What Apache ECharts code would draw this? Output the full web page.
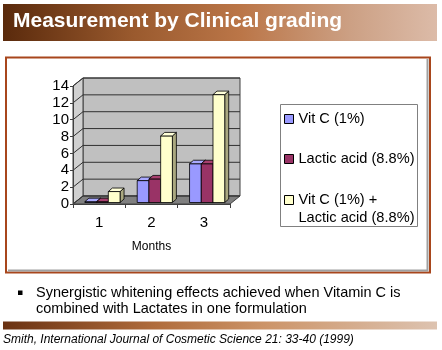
<!DOCTYPE html>
<html><head><meta charset="utf-8">
<script src="https://cdn.jsdelivr.net/npm/echarts@6/dist/echarts.min.js"></script>
<style>html,body{margin:0;padding:0;background:#fff}#c{width:442px;height:350px}</style>
</head><body><div id="c"></div>
<script>
const categories = ['1', '2', '3'];
const vitC = [0.1, 2.6, 4.6];
const lactic = [0.1, 2.8, 4.6];
const combo = [1.3, 7.9, 12.8];
const yTicks = [0, 2, 4, 6, 8, 10, 12, 14];
const seriesNames = ['Vit C (1%)', 'Lactic acid (8.8%)', 'Vit C (1%) +\nLactic acid (8.8%)'];
const titleText = 'Measurement by Clinical grading';
const xName = 'Months';
const bulletText = 'Synergistic whitening effects achieved when Vitamin C is\ncombined with Lactates in one formulation';
const citeText = 'Smith, International Journal of Cosmetic Science 21: 33-40 (1999)';

const FONT = '"Liberation Sans", Arial, Helvetica, sans-serif';
const WALL_DX = 10, WALL_DY = -8;
const BAR_DX = 3.3, BAR_DY = -1.5;
const SIDE_DX = 4, SIDE_DY = -3.5;
const palettes = [
  {front: '#9999ff', top: '#a9a9ff', side: '#6a6ab8'},
  {front: '#993366', top: '#a8406f', side: '#6a2247'},
  {front: '#ffffcc', top: '#ffffd8', side: '#aaa880'}
];

function wallsRender(params, api) {
  const cs = params.coordSys;
  const x0 = cs.x, x1 = cs.x + cs.width;
  const yv = v => api.coord([0, v])[1];
  const y0 = yv(yTicks[0]), yT = yv(yTicks[yTicks.length - 1]);
  const ch = [];
  ch.push({type: 'rect', shape: {x: x0 + WALL_DX, y: yT + WALL_DY, width: x1 - x0, height: y0 - yT},
    style: {fill: '#c0c0c0', stroke: '#404040', lineWidth: 1}});
  ch.push({type: 'polygon', shape: {points: [[x0, yT], [x0, y0], [x0 + WALL_DX, y0 + WALL_DY], [x0 + WALL_DX, yT + WALL_DY]]},
    style: {fill: '#d0d0d0', stroke: '#404040', lineWidth: 1}});
  ch.push({type: 'polygon', shape: {points: [[x0, y0], [x1, y0], [x1 + WALL_DX, y0 + WALL_DY], [x0 + WALL_DX, y0 + WALL_DY]]},
    style: {fill: '#808080', stroke: '#404040', lineWidth: 1}});
  yTicks.forEach(v => {
    const y = yv(v);
    ch.push({type: 'line', shape: {x1: x0 + WALL_DX, y1: y + WALL_DY, x2: x1 + WALL_DX, y2: y + WALL_DY},
      style: {stroke: '#303030', lineWidth: 1}});
    ch.push({type: 'line', shape: {x1: x0, y1: y, x2: x0 + WALL_DX, y2: y + WALL_DY},
      style: {stroke: '#303030', lineWidth: 1}});
  });
  return {type: 'group', children: ch};
}

function barRender(si) {
  const pal = palettes[si];
  return function (params, api) {
    const cat = api.value(0), v = api.value(1);
    const base = api.coord([cat, 0]);
    const top = api.coord([cat, v]);
    const band = api.size([1, 0])[0];
    const bw = band * 0.224;
    const xl = base[0] - bw * 1.5 + si * bw + BAR_DX;
    const xr = xl + bw;
    const yb = base[1] + BAR_DY, yt = top[1] + BAR_DY;
    const st = {stroke: '#000', lineWidth: 0.8};
    return {type: 'group', children: [
      {type: 'polygon', shape: {points: [[xr, yt], [xr + SIDE_DX, yt + SIDE_DY], [xr + SIDE_DX, yb + SIDE_DY], [xr, yb]]},
        style: Object.assign({fill: pal.side}, st)},
      {type: 'rect', shape: {x: xl, y: yt, width: bw, height: yb - yt}, style: Object.assign({fill: pal.front}, st)},
      {type: 'polygon', shape: {points: [[xl, yt], [xr, yt], [xr + SIDE_DX, yt + SIDE_DY], [xl + SIDE_DX, yt + SIDE_DY]]},
        style: Object.assign({fill: pal.top}, st)}
    ]};
  };
}

const values = [vitC, lactic, combo];
const series = [{
  type: 'custom', name: '__walls', z: 1, silent: true, renderItem: wallsRender, data: [[0, 0]], legendHoverLink: false
}];
values.forEach((arr, si) => {
  series.push({
    type: 'custom', name: seriesNames[si], z: 3, renderItem: barRender(si),
    itemStyle: {color: palettes[si].front},
    data: arr.map((v, i) => [i, v])
  });
});

function legendItem(i, top, lead) {
  return {
    data: [seriesNames[i]], left: 284, top: top, orient: 'vertical', padding: 0,
    itemWidth: 9, itemHeight: 9, icon: 'rect', selectedMode: false,
    itemStyle: {borderColor: '#000', borderWidth: 1},
    formatter: name => (lead ? '\n' : '') + name,
    textStyle: {fontSize: 14.6, color: '#000', fontFamily: FONT, lineHeight: 18}
  };
}

const chart = echarts.init(document.getElementById('c'), null, {renderer: 'canvas'});
chart.setOption({
  animation: false,
  backgroundColor: '#fff',
  grid: {left: 73, top: 86, width: 157, height: 118, containLabel: false},
  xAxis: {
    type: 'category', data: categories, z: 10,
    axisLine: {show: true, lineStyle: {color: '#404040', width: 1}},
    axisTick: {show: true, length: 4, lineStyle: {color: '#404040'}},
    axisLabel: {fontSize: 15, color: '#000', fontFamily: FONT, margin: 11},
    name: xName, nameLocation: 'middle', nameGap: 37,
    nameTextStyle: {fontSize: 12, color: '#000', fontFamily: FONT}
  },
  yAxis: {
    type: 'value', min: 0, max: 14, interval: 2, z: 10,
    axisLine: {show: true, lineStyle: {color: '#404040', width: 1}},
    axisTick: {show: true, length: 3, lineStyle: {color: '#404040'}},
    axisLabel: {fontSize: 15, color: '#000', fontFamily: FONT, margin: 4},
    splitLine: {show: false}
  },
  legend: [
    legendItem(0, 110, false),
    legendItem(1, 150, false),
    legendItem(2, 173, true)
  ],
  series: series,
  graphic: [
    {type: 'rect', z: -10, shape: {x: 3, y: 4, width: 434, height: 37},
      style: {fill: new echarts.graphic.LinearGradient(0, 0, 1, 0, [
        {offset: 0, color: '#5a2a0c'}, {offset: 0.3, color: '#9a5a2e'}, {offset: 0.55, color: '#bb7648'},
        {offset: 0.8, color: '#cca084'}, {offset: 1, color: '#dcbba8'}])}},
    {type: 'text', z: 5, x: 13, y: 21, style: {text: titleText, fill: '#fff', font: 'bold 21px ' + FONT, textVerticalAlign: 'middle'}},
    {type: 'rect', z: -10, shape: {x: 6, y: 57.5, width: 424, height: 215},
      style: {fill: 'none', stroke: '#a8461c', lineWidth: 2}},
    {type: 'line', z: -10, shape: {x1: 427.5, y1: 59, x2: 427.5, y2: 271}, style: {stroke: '#a0a0a0', lineWidth: 2}},
    {type: 'line', z: -10, shape: {x1: 8, y1: 270.5, x2: 428, y2: 270.5}, style: {stroke: '#a0a0a0', lineWidth: 2}},
    {type: 'rect', z: 5, shape: {x: 280.5, y: 104.5, width: 137, height: 122},
      style: {fill: 'none', stroke: '#808080', lineWidth: 1}},
    {type: 'rect', z: 5, shape: {x: 18, y: 290.5, width: 4.5, height: 4.5}, style: {fill: '#000'}},
    {type: 'text', z: 5, x: 36, y: 284.5, style: {text: bulletText, fill: '#000', font: '14.5px ' + FONT, lineHeight: 16.5, textVerticalAlign: 'top'}},
    {type: 'rect', z: -10, shape: {x: 3, y: 321.5, width: 434, height: 8},
      style: {fill: new echarts.graphic.LinearGradient(0, 0, 1, 0, [
        {offset: 0, color: '#6a3212'}, {offset: 0.35, color: '#b06c3c'}, {offset: 0.6, color: '#cc9468'},
        {offset: 1, color: '#ddc3b0'}])}},
    {type: 'text', z: 5, x: 3, y: 340, style: {text: citeText, fill: '#000', font: 'italic 12px ' + FONT, textVerticalAlign: 'middle'}}
  ]
});
</script>
</body></html>
